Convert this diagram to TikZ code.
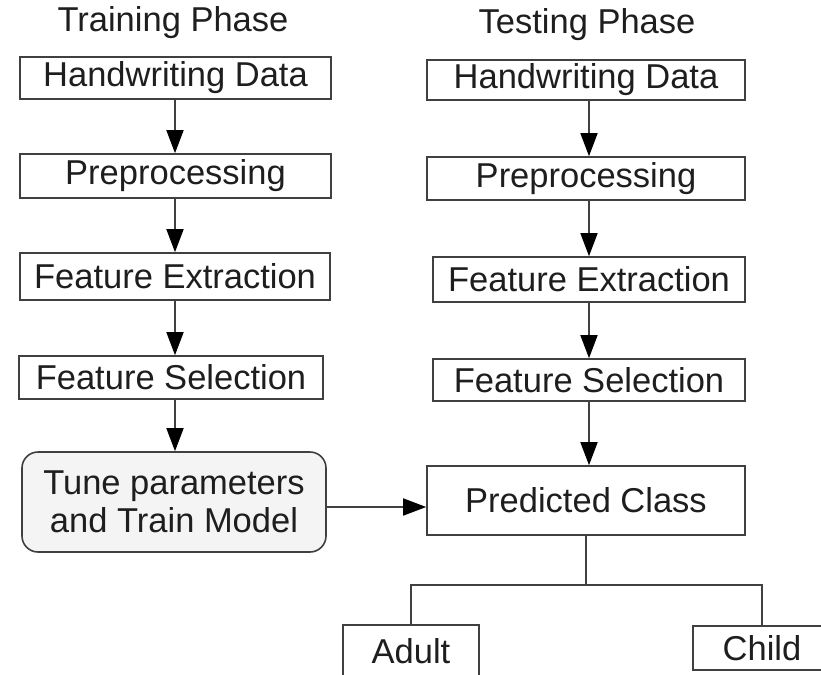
\documentclass[tikz,border=0pt]{standalone}
\usepackage{fontspec}
\setmainfont{Liberation Sans}
\usetikzlibrary{arrows.meta}

\definecolor{boxline}{HTML}{404040}
\definecolor{boxtext}{HTML}{1E1E1E}
\definecolor{tunefill}{HTML}{F4F4F4}

\tikzset{
  box/.style={draw=boxline,line width=1.6pt,inner sep=0pt,align=center},
  arr/.style={draw=boxline,line width=1.6pt,
    -{Triangle[width=17pt,length=23pt,color=black]}},
  link/.style={draw=boxline,line width=1.6pt}
}

\begin{document}
\begin{tikzpicture}[x=1pt,y=-1pt,font=\fontsize{34.5}{38}\selectfont,text=boxtext]

      \useasboundingbox (0,0) rectangle (821,674);

      \node (trtitle) at (173,23) {Training Phase};
      \node (tetitle) at (587,25) {Testing Phase};

      \begin{scope}[every node/.style={box}]
        % training column
        \node[minimum width=311,minimum height=42] (tr1) at (175.5,78)  {Handwriting Data};
        \node[minimum width=311,minimum height=44] (tr2) at (175.5,176) {Preprocessing};
        \node[minimum width=310,minimum height=47] (tr3) at (175,276.5) {Feature Extraction};
        \node[minimum width=304,minimum height=43] (tr4) at (171,377.5) {Feature Selection};
        \node[minimum width=304,minimum height=100,rounded corners=16pt,fill=tunefill]
          (tune) at (174,502) {Tune parameters\\and Train Model};
        % testing column
        \node[minimum width=318,minimum height=40] (te1) at (586,80)    {Handwriting Data};
        \node[minimum width=318,minimum height=43] (te2) at (586,178.5) {Preprocessing};
        \node[minimum width=312,minimum height=45] (te3) at (589,279.5) {Feature Extraction};
        \node[minimum width=312,minimum height=42] (te4) at (589,380)   {Feature Selection};
        \node[minimum width=318,minimum height=69] (pc)  at (586,500.5) {Predicted Class};
        % output classes
        \node[minimum width=136,minimum height=52,anchor=north] (adult) at (411,624) {Adult};
        \node[minimum width=138,minimum height=44,anchor=north] (child) at (762,625) {Child};
      \end{scope}

      \coordinate (split) at (586,585);

      \begin{scope}[every edge/.style={arr}]
        \path (tr1.south -| tr3) edge (tr2.north -| tr3);
        \path (tr2.south -| tr3) edge (tr3.north);
        \path (tr3.south) edge (tr4.north -| tr3);
        \path (tr4.south -| tr3) edge (tune.north -| tr3);
        \path (te1.south -| te3) edge (te2.north -| te3);
        \path (te2.south -| te3) edge (te3.north);
        \path (te3.south) edge (te4.north);
        \path (te4.south) edge (pc.north -| te4);
        \path ([yshift=-5pt]tune.east) edge ([yshift=-6.5pt]pc.west);
      \end{scope}

      \draw[link] (pc.south) -- (split);
      \draw[link] (split) -| (adult.north);
      \draw[link] (split) -| (child.north);

\end{tikzpicture}
\end{document}
